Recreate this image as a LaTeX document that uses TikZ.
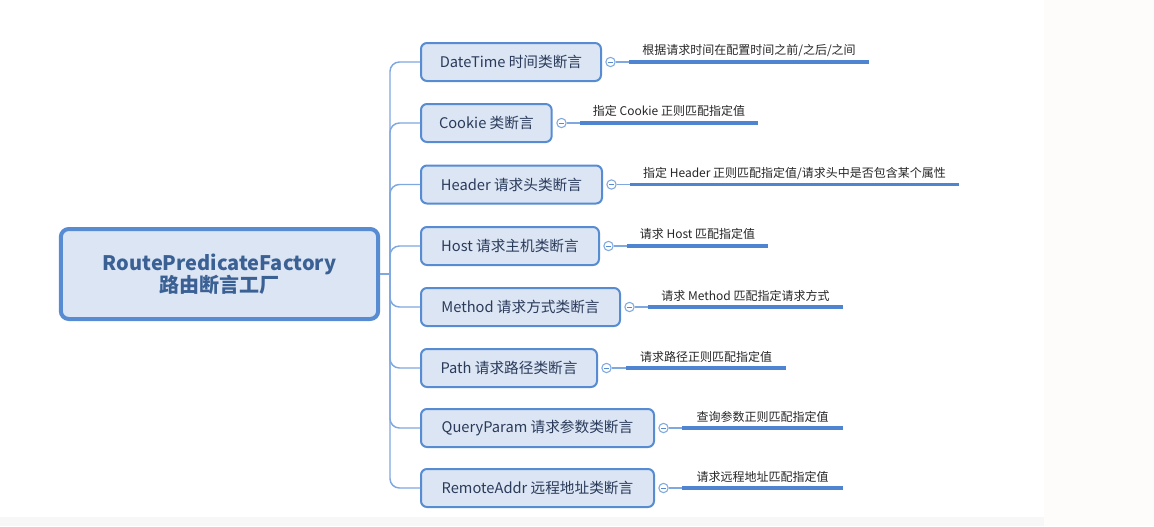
\documentclass[tikz,border=0pt]{standalone}
\usepackage{fontspec}
\setmainfont{Noto Sans CJK SC}
\usetikzlibrary{calc}

\definecolor{boxBlue}{RGB}{88,140,210}
\definecolor{boxFill}{RGB}{219,229,243}
\definecolor{rootText}{RGB}{58,96,148}
\definecolor{leafText}{RGB}{42,58,90}
\definecolor{trunkBlue}{RGB}{128,168,224}
\definecolor{lineBlue}{RGB}{78,132,208}
\definecolor{paperGray}{RGB}{247,247,247}
\definecolor{paperWarm}{RGB}{253,252,250}

\begin{document}
\begin{tikzpicture}[x=0.75pt,y=0.75pt,yscale=-1,xscale=1,
  rootbox/.style={draw=boxBlue, line width=3pt, fill=boxFill, rounded corners=6pt, minimum width=238pt, minimum height=67.5pt, align=center, text=rootText, font=\fontsize{15}{16.5}\selectfont\bfseries},
  leafbox/.style={draw=boxBlue, line width=1.5pt, fill=boxFill, rounded corners=4.5pt, minimum height=28.5pt, anchor=west, text=leafText, font=\fontsize{11}{13}\selectfont},
  fold/.style={circle, draw=trunkBlue, line width=0.8pt, fill=white, minimum size=7pt, inner sep=0pt, path picture={\draw[boxBlue, line width=0.6pt] ([xshift=-1.8pt]path picture bounding box.center) -- ([xshift=1.8pt]path picture bounding box.center);}},
  desc/.style={inner sep=0pt, text=black!85, font=\fontsize{9}{11}\selectfont},
  branch/.style={draw=trunkBlue, line width=1.1pt, rounded corners=7pt},
  underline/.style={draw=lineBlue, line width=2.3pt},
  stub/.style={draw=trunkBlue, line width=0.9pt}]
%set diagram size 1154 x 526
\useasboundingbox (0,0) rectangle (1154,526);
\fill[paperWarm] (1044,0) rectangle (1154,526);
\fill[paperGray] (0,517) rectangle (1044,526);

%Shape: Rounded Rect [root]
\node[rootbox] (root) at (219.5,274) {RoutePredicateFactory\\路由断言工厂};
\coordinate (trunk) at (390,274);

%Shape: Rounded Rect [leaves]
\node[leafbox, minimum width=135pt] (dateTime) at (420,62) {DateTime 时间类断言};
\node[leafbox, minimum width=98pt] (cookie) at (420,123) {Cookie 类断言};
\node[leafbox, minimum width=135.75pt] (header) at (420,184.5) {Header 请求头类断言};
\node[leafbox, minimum width=133.5pt] (host) at (420,246) {Host 请求主机类断言};
\node[leafbox, minimum width=149.25pt] (method) at (420,307) {Method 请求方式类断言};
\node[leafbox, minimum width=132pt] (path) at (420,368) {Path 请求路径类断言};
\node[leafbox, minimum width=174.75pt] (queryParam) at (420,428) {QueryParam 请求参数类断言};
\node[leafbox, minimum width=174.75pt] (remoteAddr) at (420,488) {RemoteAddr 远程地址类断言};

%Shape: Circle [fold markers]
\node[fold] (foldDateTime) at (610.5,62) {};
\node[fold] (foldCookie) at (561.5,123) {};
\node[fold] (foldHeader) at (611.5,184.5) {};
\node[fold] (foldHost) at (608.5,246) {};
\node[fold] (foldMethod) at (629.5,307) {};
\node[fold] (foldPath) at (606.5,368) {};
\node[fold] (foldQueryParam) at (663.5,428) {};
\node[fold] (foldRemoteAddr) at (663.5,488) {};

%Straight Lines [underlines]
\coordinate (uDateTimeA) at (629,62);   \coordinate (uDateTimeB) at (869,62);
\coordinate (uCookieA) at (580,123);    \coordinate (uCookieB) at (758,123);
\coordinate (uHeaderA) at (630,184.5);  \coordinate (uHeaderB) at (959,184.5);
\coordinate (uHostA) at (627,246);      \coordinate (uHostB) at (768,246);
\coordinate (uMethodA) at (648,307);    \coordinate (uMethodB) at (843,307);
\coordinate (uPathA) at (626,368);      \coordinate (uPathB) at (786,368);
\coordinate (uQueryA) at (682,428);     \coordinate (uQueryB) at (843,428);
\coordinate (uRemoteA) at (682,488);    \coordinate (uRemoteB) at (843,488);

% Text Node
\node[desc] (dDateTime) at (749,50) {根据请求时间在配置时间之前/之后/之间};
% Text Node
\node[desc] (dCookie) at (669,111) {指定 Cookie 正则匹配指定值};
% Text Node
\node[desc] (dHeader) at (794.5,173) {指定 Header 正则匹配指定值/请求头中是否包含某个属性};
% Text Node
\node[desc] (dHost) at (697.5,234) {请求 Host 匹配指定值};
% Text Node
\node[desc] (dMethod) at (745.5,296) {请求 Method 匹配指定请求方式};
% Text Node
\node[desc] (dPath) at (706,357) {请求路径正则匹配指定值};
% Text Node
\node[desc] (dQuery) at (762.5,417) {查询参数正则匹配指定值};
% Text Node
\node[desc] (dRemote) at (762.5,477) {请求远程地址匹配指定值};

% Connection
\draw[branch] (root.east) -- (trunk);
\draw[branch] (trunk) |- (dateTime.west);
\draw[branch] (trunk) |- (cookie.west);
\draw[branch] (trunk) |- (header.west);
\draw[branch] (trunk) |- (host.west);
\draw[branch] (trunk) |- (method.west);
\draw[branch] (trunk) |- (path.west);
\draw[branch] (trunk) |- (queryParam.west);
\draw[branch] (trunk) |- (remoteAddr.west);
% Connection
\draw[stub] (foldDateTime) -- (uDateTimeA);
\draw[stub] (foldCookie) -- (uCookieA);
\draw[stub] (foldHeader) -- (uHeaderA);
\draw[stub] (foldHost) -- (uHostA);
\draw[stub] (foldMethod) -- (uMethodA);
\draw[stub] (foldPath) -- (uPathA);
\draw[stub] (foldQueryParam) -- (uQueryA);
\draw[stub] (foldRemoteAddr) -- (uRemoteA);
% Connection
\draw[underline] (uDateTimeA) -- (uDateTimeB);
\draw[underline] (uCookieA) -- (uCookieB);
\draw[underline] (uHeaderA) -- (uHeaderB);
\draw[underline] (uHostA) -- (uHostB);
\draw[underline] (uMethodA) -- (uMethodB);
\draw[underline] (uPathA) -- (uPathB);
\draw[underline] (uQueryA) -- (uQueryB);
\draw[underline] (uRemoteA) -- (uRemoteB);

\end{tikzpicture}
\end{document}
